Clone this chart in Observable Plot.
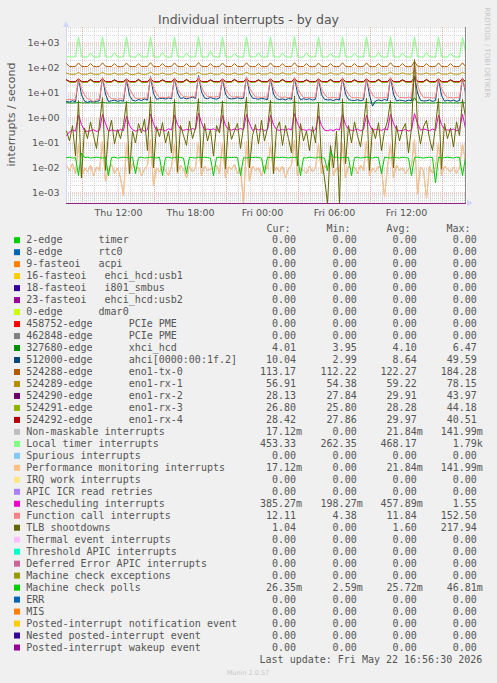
<!DOCTYPE html>
<html><head><meta charset="utf-8">
<script src="https://cdn.jsdelivr.net/npm/d3@7"></script>
<script src="https://cdn.jsdelivr.net/npm/@observablehq/plot@0.6"></script>
<style>
html,body{margin:0;padding:0;background:#F0F0F0;}
#wrap{position:relative;width:497px;height:683px;overflow:hidden;background:#F0F0F0;}
#chart{position:absolute;left:0;top:0;}
#overlay{position:absolute;left:0;top:0;pointer-events:none;}
</style></head><body>
<div id="wrap"><div id="chart"></div><svg id="overlay" width="497" height="683"></svg></div>
<script>
// ---------- time frame (15-minute samples from Thu 07:40 UTC) ----------
const startTime = Date.UTC(2026, 4, 21, 7, 40);
const stepMs = 15 * 60 * 1000;
const xDomain = [new Date(Date.UTC(2026, 4, 21, 7, 40)), new Date(Date.UTC(2026, 4, 22, 17, 0))];
const yDomain = [3.8e-4, 4170];
const xTickValues = [new Date(Date.UTC(2026,4,21,12)), new Date(Date.UTC(2026,4,21,18)), new Date(Date.UTC(2026,4,22,0)), new Date(Date.UTC(2026,4,22,6)), new Date(Date.UTC(2026,4,22,12))];
const yTickValues = [1e-3, 1e-2, 1e-1, 1, 10, 100, 1000];

// ---------- series values (interrupts / second) ----------
const loc = [
280,278,276,282,1750,285,272,275, 395,280,274,279,1760,283,270,276,
410,279,273,277,1740,288,275,271, 385,276,279,274,1770,284,272,278,
420,281,270,275,1730,290,276,273, 400,278,274,280,1780,282,271,277,
470,279,275,272,1750,286,273,276, 390,281,277,270,1760,289,274,279,
405,276,272,278,1745,283,275,271, 395,280,276,273,1790,287,262,277,
410,279,274,276,1755,284,272,278, 385,275,279,273,1765,288,271,276,
400,281,277,272,1740,285,274,279, 415,276,273,277,1770,283,270,275,
395,280,276,272,1760,286,273,278, 420,279,275,271,1750,284,272,277,
390,280,274,276,1700,453];
const tx0 = [
150,115,114,116,160,116,114,115, 152,115,113,116,162,117,114,115,
150,114,113,116,158,116,114,115, 148,115,114,116,163,117,113,115,
150,114,114,116,160,116,113,115, 152,115,114,116,165,117,114,115,
149,114,113,116,158,116,114,115, 151,115,114,116,162,117,113,115,
150,114,114,116,160,116,113,115, 148,115,114,116,163,117,114,115,
152,114,113,116,158,116,114,115, 150,115,114,116,162,117,113,115,
151,114,114,116,160,116,113,115, 149,115,114,116,163,117,114,115,
152,114,113,116,184,118,114,115, 150,115,114,116,160,116,113,115,
151,114,114,116,162,113.17];
const rx1 = [
63,57,56,57,66,57,56,57, 64,57,56,57,67,58,56,57,
63,56,57,57,65,57,54.4,57, 64,57,56,57,68,57,56,57,
63,57,56,57,66,58,56,57, 64,56,57,57,67,57,56,57,
63,57,56,57,65,57,56,57, 64,57,56,58,67,58,57,57,
63,57,57,58,66,58,57,58, 65,58,57,58,68,58,57,58,
64,58,57,58,66,58,57,58, 65,58,57,58,67,58,57,58,
64,58,57,58,66,58,57,58, 65,58,57,58,68,58,57,58,
64,58,57,58,78,59,57,58, 64,57,57,58,66,58,57,57,
64,57,57,57,67,56.91];
const rx2 = [
33,28.5,28,28.3,36,28.6,28,28.2, 34,28.4,28.1,28.3,37,28.7,27.9,28.2,
33,28.5,28,28.4,35,28.6,28.1,28.3, 34,28.3,28,28.2,38,28.8,28,28.4,
33,28.6,28.1,28.3,36,28.5,27.9,28.2, 34,28.4,28,28.5,37,28.7,28.1,28.3,
33,28.5,28.2,28.3,35,28.6,28,28.4, 34,28.7,28.3,28.5,38,28.9,28.2,28.5,
33,28.6,28.2,28.4,36,28.8,28.1,28.4, 34,28.8,28.3,28.6,37,29,28.2,28.5,
33,28.6,28.2,28.4,36,28.8,28.1,28.3, 34,28.5,28.1,28.4,37,28.7,28,28.3,
33,28.6,28.2,28.4,36,28.8,28.1,28.4, 34,28.5,28.1,28.3,38,28.7,28,28.2,
33,28.4,28,28.3,44,28.9,28.1,28.3, 34,28.5,28.1,28.4,36,28.6,27.9,28.2,
33,28.4,28,28.3,37,28.13];
const rx3 = [
32,27,26.5,26.8,35,27.2,26.3,26.8, 33,26.9,26.4,26.7,36,27.1,26.2,26.7,
32,27,26.5,26.9,34,27.2,26.4,26.8, 33,26.8,26.3,26.7,37,27.3,26.2,26.9,
32,27.1,26.5,26.8,35,27,25.8,26.7, 33,26.9,26.4,27,36,27.2,26.3,26.8,
32,27,26.6,26.8,34,27.1,26.4,26.9, 33,27.2,26.7,27,37,27.4,26.5,27,
32,27.1,26.6,26.9,35,27.3,26.4,26.9, 33,27.3,26.7,27.1,36,27.5,26.6,27,
32,27.1,26.6,26.9,35,27.3,26.5,26.8, 33,27,26.5,26.9,36,27.2,26.4,26.8,
32,27.1,26.6,26.9,35,27.3,26.5,26.9, 33,27,26.5,26.8,37,27.2,26.4,26.7,
32,26.9,26.4,26.8,44.18,27.4,26.5,26.8, 33,27,26.5,26.9,35,27.1,26.3,26.7,
32,26.9,26.4,26.8,36,26.8];
const rx4 = [
34,29,28.5,28.8,37,29.2,28.4,28.7, 35,28.9,28.4,28.7,38,29.1,28.3,28.6,
34,29,28.5,28.9,36,29.2,28.5,28.8, 35,28.8,28.3,28.7,38,29.3,28.2,28.9,
34,29.1,28.5,28.8,37,29,27.9,28.7, 35,28.9,28.4,29,38,29.2,28.3,28.8,
34,29,28.6,28.8,36,29.1,28.4,28.9, 35,29.2,28.7,29,38,29.4,28.5,29,
34,29.1,28.6,28.9,37,29.3,28.4,28.9, 35,29.3,28.7,29.1,38,29.5,28.6,29,
34,29.1,28.6,28.9,36,29.3,28.5,28.8, 35,29,28.5,28.9,37,29.2,28.4,28.8,
34,29.1,28.6,28.9,37,29.3,28.5,28.9, 35,29,28.5,28.8,38,29.2,28.4,28.7,
34,28.9,28.4,28.8,40.51,29.4,28.5,28.8, 35,29,28.5,28.9,37,29.1,28.3,28.7,
34,28.9,28.4,28.8,37,28.42];
const xhci = [
4.05,4.0,3.98,4.01,4.2,4.05,4.0,4.01, 4.06,4.0,3.99,4.02,4.22,4.04,4.0,4.01,
4.05,4.01,3.98,4.0,4.18,4.05,3.99,4.01, 4.07,4.0,3.98,4.02,4.25,4.06,4.0,4.01,
4.05,4.01,3.99,4.0,4.2,4.05,4.0,4.02, 4.06,4.0,3.98,4.01,4.23,4.04,3.99,4.01,
4.05,4.01,3.99,4.02,4.19,4.05,4.0,4.01, 4.06,4.0,3.98,4.01,4.24,4.06,4.0,4.02,
4.05,4.01,3.99,4.0,4.2,4.05,3.99,4.01, 4.07,4.0,3.98,4.02,4.26,4.04,4.0,4.01,
4.05,4.01,3.99,4.01,4.18,4.05,4.0,4.02, 4.06,4.0,3.95,4.01,4.22,4.06,3.99,4.01,
4.05,4.01,3.99,4.02,4.2,4.05,4.0,4.01, 4.06,4.0,3.98,4.01,4.24,4.04,4.0,4.02,
4.05,4.01,3.99,4.0,6.47,4.1,3.99,4.01, 4.06,4.0,3.98,4.02,4.21,4.05,4.0,4.01,
4.05,4.01,3.99,4.01,4.2,4.01];
const ahci = [
4.6,4.3,4.9,4.4,38,8.5,4.7,4.2, 4.8,4.4,4.6,5.0,42,9.0,4.5,4.9,
5.2,4.6,5.0,4.7,35,8.0,5.1,4.8, 5.5,5.0,5.8,5.2,45,9.5,5.6,6.0,
6.2,5.7,6.4,5.9,40,10,6.0,6.5, 5.8,6.3,6.8,6.1,49.59,11,6.4,5.9,
6.6,6.0,5.7,6.3,37,9.0,6.1,5.8, 6.0,6.5,5.9,6.2,44,10,6.3,6.0,
5.6,6.1,5.8,5.4,39,9.0,5.9,5.5, 5.8,5.3,6.0,5.6,42,9.5,5.4,5.9,
5.5,5.9,5.2,5.7,36,8.5,5.6,5.3, 5.4,5.0,5.6,5.2,41,9.0,5.5,5.1,
5.0,5.4,4.9,5.3,38,8.5,2.99,4.8, 5.3,4.9,5.5,5.0,43,9.0,4.8,5.2,
5.0,4.7,5.2,4.9,46,10,5.1,4.8, 4.9,5.3,4.6,5.0,37,8.0,4.7,5.1,
4.8,5.2,4.6,5.0,40,10.04];
const pmi = [
0.012,0.008,0.015,0.006,0.09,0.004,0.01,0.007, 0.013,0.005,0.011,0.008,0.12,0.003,0.009,0.014,
0.006,0.01,0.004,0.0008,0.1,0.006,0.015,0.008, 0.011,0.005,0.009,0.013,0.14,0.002,0.01,0.007,
0.012,0.008,0.005,0.011,0.09,0.006,0.013,0.009, 0.004,0.012,0.007,0.01,0.11,0.005,0.012,0.008,
0.009,0.01,0.013,0.006,0.1,0.004,0.011,0.009, 0.014,0.006,0.01,0,0.12,0.003,0.012,0.008,
0.01,0.005,0.013,0.009,0.08,0.006,0.011,0.007, 0.012,0.004,0.009,0.013,0.13,0.005,0.01,0.008,
0.006,0.012,0.007,0.01,0.09,0.006,0.013,0.008, 0.03,0.005,0.01,0.007,0.1,0.004,0.012,0.009,
0.011,0.006,0.013,0.008,0.12,0.005,0.01,0.007, 0.012,0.009,0.0007,0.011,0.09,0.004,0.013,0.008,
0.01,0.006,0.009,0.012,0.142,0.0009,0.011,0.008, 0.0006,0.012,0.006,0.01,0.1,0.005,0.012,0.009,
0.007,0.011,0.006,0.01,0.09,0.01712];
const nmi = pmi; // identical readings (same Cur/Min/Avg/Max)
const res = [
0.2,0.28,0.33,0.3,1.3,0.55,0.32,0.29, 0.31,0.34,0.29,0.32,1.4,0.6,0.3,0.33,
0.32,0.29,0.35,0.31,1.2,0.5,0.34,0.3, 0.33,0.36,0.3,0.34,1.45,0.6,0.31,0.35,
0.34,0.31,0.37,0.33,1.3,0.55,0.36,0.32, 0.35,0.33,0.38,0.34,1.55,0.65,0.33,0.36,
0.34,0.37,0.32,0.35,1.25,0.5,0.35,0.33, 0.36,0.33,0.38,0.34,1.4,0.6,0.32,0.37,
0.33,0.36,0.31,0.35,1.3,0.55,0.34,0.32, 0.35,0.32,0.37,0.33,1.5,0.6,0.36,0.34,
0.32,0.35,0.3,0.34,1.2,0.5,0.33,0.31, 0.34,0.31,0.36,0.33,1.35,0.55,0.35,0.32,
0.33,0.36,0.31,0.34,1.3,0.55,0.32,0.35, 0.35,0.32,0.37,0.33,1.45,0.6,0.34,0.31,
0.32,0.35,0.3,0.34,1.5,0.6,0.33,0.36, 0.34,0.31,0.36,0.32,1.3,0.55,0.35,0.33,
0.33,0.36,0.31,0.34,1.4,0.385];
const cal = [
5.4,5.6,5.3,5.5,40,15,8.5,5.8, 5.6,4.38,5.7,5.5,42,14,8.0,5.9,
5.8,5.6,6.0,5.7,38,15,9.0,6.1, 6.2,6.0,6.4,6.1,44,16,9.5,6.5,
6.8,6.5,7.0,6.7,41,15,9.5,7.1, 7.0,6.8,7.3,6.9,45,17,10,7.2,
7.1,6.8,7.2,7.0,39,15,9.5,7.0, 6.9,7.2,6.8,7.1,43,16,10,7.0,
6.8,6.6,7.0,6.7,40,15,9.0,6.9, 6.7,6.9,6.5,6.8,42,16,9.5,6.6,
6.6,6.8,6.4,6.7,38,14,9.0,6.5, 6.5,6.7,6.3,6.6,41,15,9.0,6.6,
6.4,6.6,6.2,6.5,39,14,8.5,6.4, 6.5,6.3,6.7,6.4,43,16,9.0,6.6,
6.6,6.4,6.8,6.5,152.5,20,10,6.7, 6.5,6.7,6.3,6.6,40,15,9.0,6.4,
6.6,6.4,6.7,6.5,41,12.11];
const tlb = [
0.3,0.12,0.5,0.03,5.0,0.004,0.4,0.15, 0.7,0.2,0.06,0.6,6.5,0.008,0.25,0.8,
0.09,0.35,0.15,0.55,4.5,0.006,0.3,0.1, 0.6,0.25,0.9,0.05,7.0,0.01,0.45,0.18,
0.65,0.1,0.3,0.04,5.5,0.007,0.5,0.2, 0.08,0.75,0.15,0.4,6.0,0.01,0.6,0.12,
0.35,0.03,0.5,0.25,4.8,0.009,0.7,0.14, 0.3,0.6,0.06,0.45,6.8,0.01,0.2,0.55,
0.09,0.8,0.12,0.4,5.2,0.006,0.35,0.7, 0.08,0.5,0.15,0.04,7.5,0.012,0.6,0.12,
0.3,0.05,0.45,0.1,4.0,0.02,0.004,0, 0.08,0.01,0.3,0,5.8,0.015,0.5,0.1,
0.7,0.2,0.07,0.55,6.2,0.008,0.4,0.15, 0.65,0.05,0.3,0.75,5.0,0.01,0.5,0.12,
0.35,0.6,0.04,0.4,217.94,0.5,0.09,0.45, 0.8,0.15,0.05,0.5,6.0,0.009,0.6,0.15,
0.4,0.07,0.7,0.2,5.5,1.04];
const mcp = [
0.026,0.027,0.025,0.026,0.005,0.04,0.026,0.027, 0.025,0.026,0.027,0.026,0.025,0.027,0.005,0.026,
0.027,0.025,0.026,0.027,0.026,0.025,0.027,0.006, 0.026,0.027,0.025,0.026,0.027,0.026,0.025,0.027,
0.005,0.026,0.027,0.025,0.026,0.027,0.026,0.025, 0.006,0.027,0.026,0.025,0.027,0.026,0.027,0.026,
0.025,0.005,0.026,0.027,0.026,0.025,0.027,0.026, 0.027,0.026,0.005,0.026,0.025,0.027,0.026,0.027,
0.026,0.025,0.006,0.027,0.026,0.025,0.027,0.026, 0.027,0.026,0.025,0.027,0.026,0.027,0.005,0.026,
0.025,0.027,0.026,0.025,0.027,0.026,0.025,0.008, 0.0468,0.026,0.027,0.025,0.026,0.027,0.026,0.005,
0.026,0.027,0.025,0.026,0.027,0.026,0.025,0.027, 0.026,0.006,0.027,0.026,0.025,0.027,0.026,0.025,
0.027,0.026,0.025,0.005,0.026,0.027,0.026,0.025, 0.026,0.027,0.026,0.00259,0.027,0.025,0.026,0.027,
0.026,0.025,0.027,0.026,0.005,0.02635];

// ---------- legend (Munin order) ----------
const legendNames = ["2-edge      timer","8-edge      rtc0","9-fasteoi   acpi","16-fasteoi   ehci_hcd:usb1","18-fasteoi   i801_smbus","23-fasteoi   ehci_hcd:usb2","0-edge      dmar0","458752-edge      PCIe PME","462848-edge      PCIe PME","327680-edge      xhci_hcd","512000-edge      ahci[0000:00:1f.2]","524288-edge      eno1-tx-0","524289-edge      eno1-rx-1","524290-edge      eno1-rx-2","524291-edge      eno1-rx-3","524292-edge      eno1-rx-4","Non-maskable interrupts","Local timer interrupts","Spurious interrupts","Performance monitoring interrupts","IRQ work interrupts","APIC ICR read retries","Rescheduling interrupts","Function call interrupts","TLB shootdowns","Thermal event interrupts","Threshold APIC interrupts","Deferred Error APIC interrupts","Machine check exceptions","Machine check polls","ERR","MIS","Posted-interrupt notification event","Nested posted-interrupt event","Posted-interrupt wakeup event"];
const legendColors = ["#00CC00","#0066B3","#FF8000","#FFCC00","#330099","#990099","#CCFF00","#FF0000","#808080","#008F00","#00487D","#B35A00","#B38F00","#6B006B","#8FB300","#B30000","#BEBEBE","#80FF80","#80C9FF","#FFC080","#FFE680","#AA80FF","#EE00CC","#FF8080","#666600","#FFBFFF","#00FFCC","#CC6699","#999900","#00CC00","#0066B3","#FF8000","#FFCC00","#330099","#990099"];
const legendCur = ["0.00","0.00","0.00","0.00","0.00","0.00","0.00","0.00","0.00","4.01","10.04","113.17","56.91","28.13","26.80","28.42","17.12m","453.33","0.00","17.12m","0.00","0.00","385.27m","12.11","1.04","0.00","0.00","0.00","0.00","26.35m","0.00","0.00","0.00","0.00","0.00"];
const legendMin = ["0.00","0.00","0.00","0.00","0.00","0.00","0.00","0.00","0.00","3.95","2.99","112.22","54.38","27.84","25.80","27.86","0.00","262.35","0.00","0.00","0.00","0.00","198.27m","4.38","0.00","0.00","0.00","0.00","0.00","2.59m","0.00","0.00","0.00","0.00","0.00"];
const legendAvg = ["0.00","0.00","0.00","0.00","0.00","0.00","0.00","0.00","0.00","4.10","8.64","122.27","59.22","29.91","28.28","29.97","21.84m","468.17","0.00","21.84m","0.00","0.00","457.89m","11.84","1.60","0.00","0.00","0.00","0.00","25.72m","0.00","0.00","0.00","0.00","0.00"];
const legendMax = ["0.00","0.00","0.00","0.00","0.00","0.00","0.00","0.00","0.00","6.47","49.59","184.28","78.15","43.97","44.18","40.51","141.99m","1.79k","0.00","141.99m","0.00","0.00","1.55","152.50","217.94","0.00","0.00","0.00","0.00","46.81m","0.00","0.00","0.00","0.00","0.00"];

// which value array belongs to each legend entry (null = all zero)
const seriesValues = [null,null,null,null,null,null,null,null,null,xhci,ahci,tx0,rx1,rx2,rx3,rx4,nmi,loc,null,pmi,null,null,res,cal,tlb,null,null,null,null,mcp,null,null,null,null,null];

// ---------- build tidy rows ----------
const toRows = vals => vals.map((v, i) => ({t: new Date(startTime + i * stepMs), v}));
const zeroRows = [{t: xDomain[0], v: 0}, {t: new Date(startTime + 133 * stepMs), v: 0}];
const yOf = d => Math.max(d.v, yDomain[0]);

const minorY = [];
for (let e = -4; e <= 3; e++) for (let m = 2; m <= 9; m++) { const v = m * Math.pow(10, e); if (v > yDomain[0] && v < yDomain[1]) minorY.push(v); }
const hours = d3.utcHour.range(xDomain[0], xDomain[1]).filter(d => d > xDomain[0]);
const majorX = hours.filter(d => d.getUTCHours() % 6 === 3);
const minorX = hours.filter(d => d.getUTCHours() % 6 !== 3);
const fmtExp = v => { const e = Math.round(Math.log10(v)); return "1e" + (e < 0 ? "-" : "+") + String(Math.abs(e)).padStart(2, "0"); };

const lineMarks = seriesValues.map((vals, i) => Plot.line(vals ? toRows(vals) : zeroRows, {x: "t", y: yOf, stroke: legendColors[i], strokeWidth: 1, strokeOpacity: vals ? 1 : 0.55}));

const chart = Plot.plot({
  width: 497, height: 222,
  marginLeft: 66, marginRight: 31, marginTop: 27, marginBottom: 19,
  style: {background: "#F0F0F0", fontFamily: "DejaVu Sans", fontSize: "9.5px", color: "#555", overflow: "visible"},
  x: {type: "utc", domain: xDomain, label: null},
  y: {type: "log", domain: yDomain, label: null},
  marks: [
    Plot.frame({fill: "white", stroke: null}),
    Plot.gridY(minorY, {stroke: "#c0c0c0", strokeOpacity: 0.7, strokeDasharray: "1,1"}),
    Plot.gridX(minorX, {stroke: "#c0c0c0", strokeOpacity: 0.7, strokeDasharray: "1,1"}),
    Plot.gridY(yTickValues, {stroke: "#e89090", strokeOpacity: 0.75, strokeDasharray: "1,1"}),
    Plot.gridX(majorX, {stroke: "#e89090", strokeOpacity: 0.75, strokeDasharray: "1,1"}),
    Plot.ruleX([xDomain[0]], {stroke: "#CFD6F8"}),
    Plot.ruleY([yDomain[0]], {stroke: "#CFD6F8"}),
    ...lineMarks,
    Plot.ruleX([new Date(startTime + 133 * stepMs)], {stroke: "#8a8a8a"}),
    Plot.axisY(yTickValues, {tickSize: 0, tickPadding: 7, tickFormat: fmtExp, label: null}),
    Plot.axisX(xTickValues, {tickSize: 0, tickPadding: 6, tickFormat: d3.utcFormat("%a %H:%M"), label: null})
  ]
});
document.getElementById("chart").appendChild(chart);

// axis arrows (positions from the scales)
const xs = chart.scale("x"), ys = chart.scale("y");
const svgSel = d3.select(chart);
const xL = xs.range[0], xR = xs.range[1], yB = ys.range[0], yT = ys.range[1];
svgSel.append("path").attr("d", `M${xL - 3},${yT} L${xL},${yT - 6} L${xL + 3},${yT} Z`).attr("fill", "#CFD6F8");
svgSel.append("path").attr("d", `M${xR + 1},${yB - 3} L${xR + 7},${yB} L${xR + 1},${yB + 3} Z`).attr("fill", "#CFD6F8");

// ---------- overlay texts and legend ----------
const ov = d3.select("#overlay");
const textColor = "#555";
ov.append("text").attr("x", 248.5).attr("y", 24).attr("text-anchor", "middle")
  .attr("font-family", "DejaVu Sans").attr("font-size", 12.5).attr("fill", textColor)
  .text("Individual interrupts - by day");
ov.append("text").attr("transform", "translate(15,114.5) rotate(-90)").attr("text-anchor", "middle")
  .attr("font-family", "DejaVu Sans").attr("font-size", 11).attr("fill", textColor)
  .text("interrupts / second");
ov.append("text").attr("transform", "translate(485,52.5) rotate(90)").attr("text-anchor", "middle")
  .attr("font-family", "DejaVu Sans").attr("font-size", 7).attr("fill", "#c4c4c4")
  .text("RRDTOOL / TOBI OETIKER");

const mono = "DejaVu Sans Mono";
const headers = ["Cur:", "Min:", "Avg:", "Max:"];
const headerX = [290.5, 350.5, 410.5, 470.5];
const numX = [296, 356.7, 416.7, 476.8];
headers.forEach((h, j) => ov.append("text").attr("x", headerX[j]).attr("y", 231.6).attr("text-anchor", "end")
  .attr("font-family", mono).attr("font-size", 10).attr("fill", textColor).text(h));

const cols = [legendCur, legendMin, legendAvg, legendMax];
legendNames.forEach((name, i) => {
  const yb = 243.4 + 11.98 * i;
  ov.append("rect").attr("x", 14).attr("y", yb - 6.2).attr("width", 6).attr("height", 6).attr("fill", legendColors[i]);
  ov.append("text").attr("x", 26.3).attr("y", yb).attr("font-family", mono).attr("font-size", 10)
    .attr("fill", textColor).style("white-space", "pre").text(name);
  cols.forEach((col, j) => {
    const m = /^([\d.]+)([mk]?)$/.exec(col[i]);
    ov.append("text").attr("x", numX[j]).attr("y", yb).attr("text-anchor", "end").attr("font-family", mono)
      .attr("font-size", 10).attr("fill", textColor).text(m[1]);
    if (m[2]) ov.append("text").attr("x", numX[j]).attr("y", yb).attr("font-family", mono)
      .attr("font-size", 10).attr("fill", textColor).text(m[2]);
  });
});
ov.append("text").attr("x", 482.3).attr("y", 663.3).attr("text-anchor", "end").attr("font-family", mono)
  .attr("font-size", 10).attr("fill", textColor).style("white-space", "pre").text("Last update: Fri May 22 16:56:30 2026");
ov.append("text").attr("x", 248).attr("y", 674.5).attr("text-anchor", "middle").attr("font-family", "DejaVu Sans")
  .attr("font-size", 6.5).attr("fill", "#c8c8c8").text("Munin 2.0.57");
</script></body></html>
